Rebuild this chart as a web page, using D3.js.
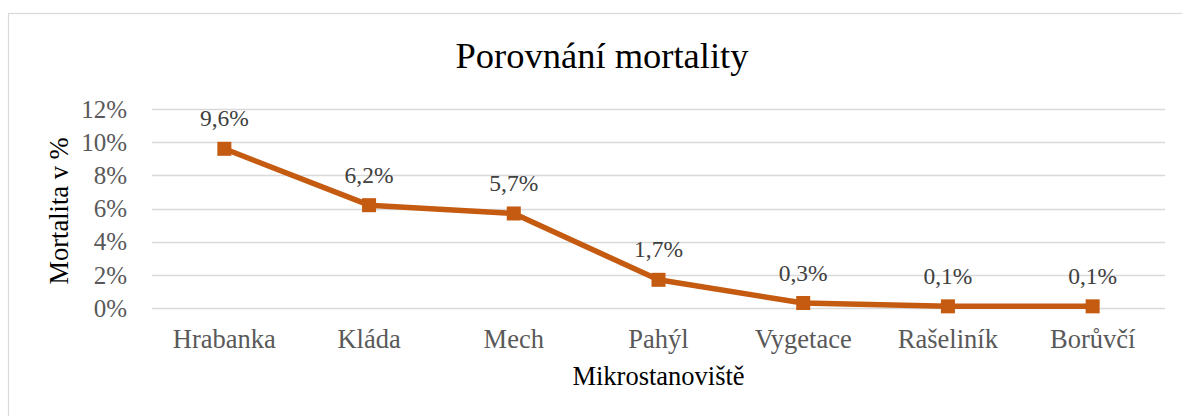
<!DOCTYPE html>
<html><head><meta charset="utf-8">
<script src="https://cdn.jsdelivr.net/npm/d3@7"></script>
<style>
html,body{margin:0;padding:0;background:#fff;}
svg{display:block;font-family:"Liberation Serif","Times New Roman",serif;}
</style></head>
<body>
<svg id="chart" width="1182" height="416"></svg>
<script>
const categories = ["Hrabanka","Kláda","Mech","Pahýl","Vygetace","Rašeliník","Borůvčí"];
const values = [0.096,0.062,0.057,0.017,0.003,0.001,0.001];
const labels = ["9,6%","6,2%","5,7%","1,7%","0,3%","0,1%","0,1%"];
const yTicks = [0,0.02,0.04,0.06,0.08,0.10,0.12];
const title = "Porovnání mortality";
const xTitle = "Mikrostanoviště";
const yTitle = "Mortalita v %";

(function(){
const svg = d3.select("#chart");
const W = 1182, H = 416;
const color = "#C55A11";

svg.append("rect").attr("x",8.5).attr("y",13.5).attr("width",W).attr("height",H)
  .attr("fill","#fff").attr("stroke","#d9d9d9").attr("stroke-width",1.2);

const pL = 152, pR = 1165, pT = 109, pB = 308;
const x = d3.scaleBand().domain(categories).range([pL,pR]);
const y = d3.scaleLinear().domain([0,0.12]).range([pB,pT]);
const cx = (i)=>x(categories[i])+x.bandwidth()/2;

svg.append("g").selectAll("line").data(yTicks).join("line")
  .attr("x1",pL).attr("x2",pR)
  .attr("y1",d=>Math.round(y(d))+0.5).attr("y2",d=>Math.round(y(d))+0.5)
  .attr("stroke","#d9d9d9").attr("stroke-width",1.5);

svg.append("g").selectAll("text").data(yTicks).join("text")
  .attr("x",127).attr("y",d=>y(d)).attr("dy","0.35em")
  .attr("text-anchor","end").attr("font-size",25).attr("fill","#595959")
  .text(d=>Math.round(d*100)+"%");

svg.append("g").selectAll("text").data(categories).join("text")
  .attr("x",d=>x(d)+x.bandwidth()/2).attr("y",348)
  .attr("text-anchor","middle").attr("font-size",26.5).attr("fill","#595959")
  .text(d=>d);

const line = d3.line().x((d,i)=>cx(i)).y(d=>y(d));
svg.append("path").datum(values).attr("d",line)
  .attr("fill","none").attr("stroke",color).attr("stroke-width",5.5)
  .attr("stroke-linejoin","round");

const ms = 14;
svg.append("g").selectAll("rect").data(values).join("rect")
  .attr("x",(d,i)=>cx(i)-ms/2)
  .attr("y",d=>y(d)-ms/2).attr("width",ms).attr("height",ms)
  .attr("fill",color);

svg.append("g").selectAll("text").data(values).join("text")
  .attr("x",(d,i)=>cx(i)).attr("y",d=>y(d)-22.5)
  .attr("text-anchor","middle").attr("font-size",23.5).attr("fill","#404040")
  .text((d,i)=>labels[i]);

svg.append("text").attr("x",602).attr("y",68).attr("text-anchor","middle")
  .attr("font-size",36.5).attr("fill","#000").text(title);

svg.append("text").attr("x",pL+(pR-pL)/2).attr("y",385).attr("text-anchor","middle")
  .attr("font-size",26.5).attr("fill","#000").text(xTitle);
svg.append("text").attr("transform",`translate(68,${211}) rotate(-90)`)
  .attr("text-anchor","middle").attr("font-size",26.5).attr("fill","#000").text(yTitle);
})();
</script>
</body></html>
